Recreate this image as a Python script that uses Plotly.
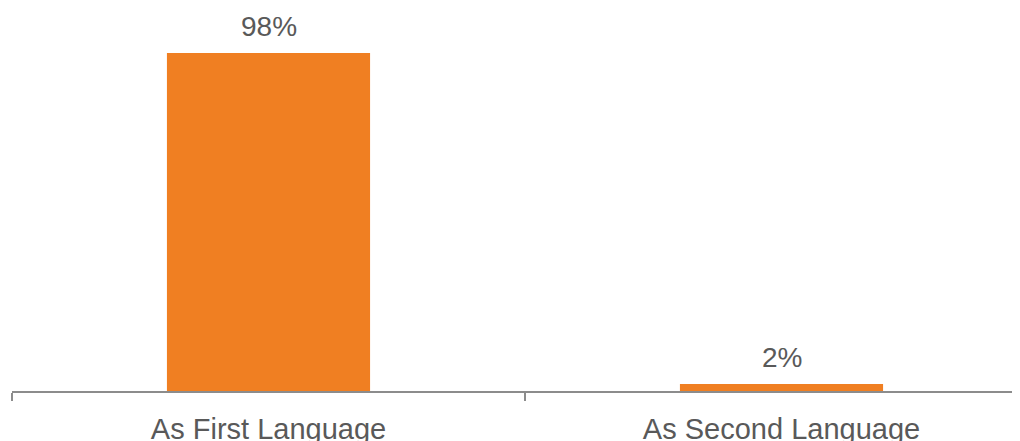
import plotly.graph_objects as go

categories = ["As First Language", "As Second Language"]
values = [98, 2]
labels = ["98%", "2%"]

x_pos = list(range(len(categories)))
bar_color = "#F07F22"
text_color = "#595959"
axis_color = "#8C8C8C"
font_family = "Liberation Sans, Arial, sans-serif"

fig = go.Figure(
    go.Bar(
        x=x_pos,
        y=values,
        marker=dict(color=bar_color, line=dict(width=0)),
        width=0.396,
        hoverinfo="skip",
    )
)

for xv, yv, lab in zip(x_pos, values, labels):
    fig.add_annotation(
        x=xv,
        y=yv,
        text=lab,
        showarrow=False,
        yanchor="middle",
        xanchor="center",
        yshift=27,
        font=dict(size=28, color=text_color, family=font_family),
    )

fig.update_layout(
    width=1012,
    height=433,
    margin=dict(l=4, r=0, t=0, b=50, autoexpand=False),
    paper_bgcolor="white",
    plot_bgcolor="white",
    showlegend=False,
    font=dict(family=font_family, color=text_color),
    xaxis=dict(
        range=[-0.5, -0.5 + 1008 / 513],
        automargin=False,
        tickmode="array",
        tickvals=x_pos,
        ticktext=categories,
        tickfont=dict(size=29, color=text_color),
        ticks="outside",
        ticklen=11,
        tickcolor="rgba(0,0,0,0)",
        showline=True,
        linecolor=axis_color,
        linewidth=2,
        showgrid=False,
        zeroline=False,
        minor=dict(
            tickmode="array",
            tickvals=[-0.5, 0.5, 1.5],
            ticks="outside",
            ticklen=8,
            tickwidth=1.5,
            tickcolor=axis_color,
            showgrid=False,
        ),
    ),
    yaxis=dict(
        range=[0, 111.05],
        visible=False,
        automargin=False,
        showgrid=False,
        zeroline=False,
    ),
)

fig.write_html("out.html")
